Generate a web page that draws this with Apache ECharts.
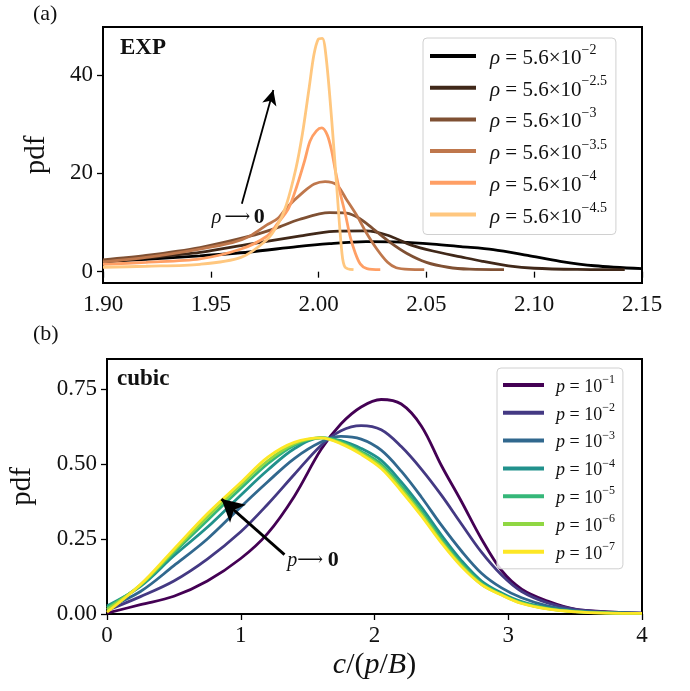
<!DOCTYPE html>
<html>
<head>
<meta charset="utf-8">
<script src="https://cdn.jsdelivr.net/npm/echarts@6.0.0/dist/echarts.min.js"></script>
<style>
  html, body { margin: 0; padding: 0; background: #fff; }
  #pdf_chart { width: 690px; height: 691px; }
</style>
</head>
<body>
<div id="pdf_chart"></div>
<script>
// (a) EXP : [c/(p/B), pdf] per rho
var expRho2  = [[1.90,2.0],[1.92,2.5],[1.945,3.2],[1.968,4.0],[1.99,5.1],[2.005,5.7],[2.022,6.1],[2.038,6.0],[2.053,5.6],[2.066,5.1],[2.081,4.5],[2.097,3.3],[2.112,2.1],[2.128,1.2],[2.15,0.6]];
var expRho25 = [[1.90,2.0],[1.92,2.8],[1.945,3.9],[1.968,5.6],[1.991,7.2],[2.007,8.2],[2.022,8.3],[2.032,7.4],[2.043,5.4],[2.053,4.2],[2.066,3.0],[2.076,2.1],[2.088,1.2],[2.10,0.7],[2.12,0.45],[2.142,0.4]];
var expRho3  = [[1.90,2.4],[1.92,3.3],[1.945,4.9],[1.968,7.2],[1.98,8.8],[1.991,10.6],[2.005,12.0],[2.013,11.9],[2.019,10.8],[2.025,8.8],[2.033,6.0],[2.041,3.7],[2.05,1.9],[2.06,0.9],[2.07,0.5],[2.086,0.4]];
var expRho35 = [[1.90,2.0],[1.92,2.9],[1.945,4.6],[1.96,5.9],[1.968,7.2],[1.976,9.5],[1.981,10.8],[1.9852,13.0],[1.993,16.2],[1.998,17.8],[2.003,18.3],[2.0085,17.6],[2.013,14.6],[2.018,11.2],[2.022,8.0],[2.027,4.6],[2.032,1.9],[2.036,0.8],[2.042,0.45],[2.049,0.4]];
var expRho4  = [[1.90,1.5],[1.92,1.9],[1.945,2.6],[1.964,4.6],[1.976,7.2],[1.981,9.8],[1.986,12.8],[1.99,17.5],[1.9935,22.5],[1.996,26.5],[1.999,28.6],[2.0015,29.2],[2.004,27.8],[2.006,24.7],[2.008,20.0],[2.01,16.0],[2.0125,11.5],[2.0146,7.2],[2.017,3.8],[2.0193,1.6],[2.0224,0.6],[2.0286,0.4]];
var expRho45 = [[1.90,0.9],[1.92,1.1],[1.945,1.5],[1.964,2.9],[1.976,6.5],[1.981,9.5],[1.985,13.5],[1.9895,21.0],[1.9925,28.0],[1.9955,37.0],[1.9978,44.0],[1.9998,47.2],[2.0017,47.4],[2.0035,43.5],[2.0061,30.7],[2.0084,17.3],[2.0108,3.9],[2.0123,0.9],[2.0162,0.4]];
var expNames = ['−2','−2.5','−3','−3.5','−4','−4.5'];
var expColors = ['#000000','#402819','#7f5033','#bf774c','#ff9f65','#ffc77f'];
var expTicksX = [1.90,1.95,2.00,2.05,2.10,2.15];
var expTicksY = [0,20,40];

// (b) cubic : pdf on a shared c/(p/B) grid per p
var cubicX  = [0,0.25,0.5,0.75,1.0,1.2,1.4,1.6,1.75,1.9,2.05,2.2,2.35,2.5,2.65,2.8,2.95,3.1,3.3,3.5,3.75,4.0];
var cubicP1 = [0.003,0.031,0.059,0.110,0.185,0.268,0.392,0.548,0.634,0.690,0.715,0.700,0.627,0.495,0.375,0.250,0.145,0.083,0.042,0.016,0.007,0.003];
var cubicP2 = [0.012,0.058,0.110,0.183,0.274,0.365,0.465,0.562,0.611,0.628,0.614,0.558,0.483,0.396,0.300,0.206,0.130,0.075,0.036,0.015,0.006,0.003];
var cubicP3 = [0.020,0.075,0.161,0.250,0.357,0.440,0.518,0.573,0.592,0.583,0.546,0.476,0.390,0.296,0.210,0.136,0.087,0.054,0.026,0.011,0.005,0.002];
var cubicP4 = [0.027,0.092,0.194,0.289,0.396,0.479,0.551,0.587,0.578,0.552,0.512,0.440,0.356,0.263,0.178,0.110,0.070,0.041,0.020,0.009,0.004,0.002];
var cubicP5 = [0.022,0.095,0.204,0.312,0.418,0.500,0.562,0.588,0.575,0.542,0.500,0.427,0.343,0.250,0.168,0.103,0.066,0.038,0.018,0.008,0.004,0.002];
var cubicP6 = [0.015,0.097,0.210,0.323,0.430,0.510,0.567,0.587,0.570,0.537,0.492,0.418,0.335,0.242,0.162,0.099,0.064,0.036,0.017,0.008,0.003,0.002];
var cubicP7 = [0.006,0.098,0.216,0.334,0.438,0.522,0.572,0.587,0.567,0.532,0.485,0.410,0.327,0.237,0.158,0.098,0.063,0.035,0.016,0.007,0.003,0.002];
var cubicNames = ['−1','−2','−3','−4','−5','−6','−7'];
var cubicColors = ['#440154','#443983','#31688e','#21918c','#35b779','#90d743','#fde725'];
var cubicTicksX = [0,1,2,3,4];
var cubicTicksY = [0,0.25,0.5,0.75];

var FONT = '"Liberation Serif", "DejaVu Serif", serif';

// tick / label style shared by all axes
function axisStyle(ticks, digits) {
    return {
        axisLine: {show: false},
        splitLine: {show: false},
        axisTick: {show: true, customValues: ticks, length: 6, lineStyle: {color: '#000', width: 1.3}},
        axisLabel: {
            customValues: ticks, color: '#111', fontFamily: FONT, fontSize: 23, margin: 10,
            formatter: function (v) { return v.toFixed(digits); }
        }
    };
}

function makeAxis(base, extra) {
    for (var k in extra) base[k] = extra[k];
    return base;
}

var expSeries = [expRho2, expRho25, expRho3, expRho35, expRho4, expRho45];
var cubicSeries = [cubicP1, cubicP2, cubicP3, cubicP4, cubicP5, cubicP6, cubicP7];
var series = [];
var expLegend = [], cubicLegend = [], supMap = {};

for (var i = 0; i < expSeries.length; i++) {
    var nm = 'rho' + expNames[i];
    supMap[nm] = expNames[i];
    expLegend.push(nm);
    series.push({
        name: nm, type: 'line', xAxisIndex: 0, yAxisIndex: 0,
        data: expSeries[i], showSymbol: false, symbol: 'none', smooth: 0.3,
        lineStyle: {color: expColors[i], width: 2.8}, itemStyle: {color: expColors[i]}
    });
}
for (var j = 0; j < cubicSeries.length; j++) {
    var nm2 = 'p' + cubicNames[j];
    supMap[nm2] = cubicNames[j];
    cubicLegend.push(nm2);
    var pts = [];
    for (var n = 0; n < cubicX.length; n++) pts.push([cubicX[n], cubicSeries[j][n]]);
    series.push({
        name: nm2, type: 'line', xAxisIndex: 1, yAxisIndex: 1,
        data: pts, showSymbol: false, symbol: 'none', smooth: 0.35,
        lineStyle: {color: cubicColors[j], width: 2.8}, itemStyle: {color: cubicColors[j]}
    });
}

// annotations: arrows + labels in data coordinates
var topLast = series[expSeries.length - 1];
topLast.markLine = {
    silent: true, animation: false, symbol: ['none', 'arrow'], symbolSize: [11, 15],
    lineStyle: {color: '#000', width: 1.8, type: 'solid'}, label: {show: false},
    data: [[{coord: [1.9644, 13.8]}, {coord: [1.979, 36.9]}]]
};
topLast.markPoint = {
    silent: true, animation: false, symbol: 'circle', symbolSize: 0,
    label: {
        show: true, position: 'inside', formatter: '{i|ρ} {t|⟶} {b|0}',
        rich: {
            i: {fontFamily: FONT, fontStyle: 'italic', fontSize: 20, color: '#111'},
            t: {fontFamily: FONT, fontSize: 18, color: '#111'},
            b: {fontFamily: FONT, fontWeight: 'bold', fontSize: 22, color: '#111'}
        }
    },
    data: [{coord: [1.9627, 11.0]}]
};
var botLast = series[series.length - 1];
botLast.markLine = {
    silent: true, animation: false, symbol: ['none', 'arrow'], symbolSize: [18, 22],
    lineStyle: {color: '#000', width: 2.8, type: 'solid'}, label: {show: false},
    data: [[{coord: [1.327, 0.198]}, {coord: [0.856, 0.383]}]]
};
botLast.markPoint = {
    silent: true, animation: false, symbol: 'circle', symbolSize: 0,
    label: {
        show: true, position: 'inside', formatter: '{i|p}{t|⟶ }{b|0}',
        rich: {
            i: {fontFamily: FONT, fontStyle: 'italic', fontSize: 20, color: '#111'},
            t: {fontFamily: FONT, fontSize: 18, color: '#111'},
            b: {fontFamily: FONT, fontWeight: 'bold', fontSize: 22, color: '#111'}
        }
    },
    data: [{coord: [1.54, 0.178]}]
};

function legendRich(size, supSize, lh, pad) {
    return {
        i: {fontFamily: FONT, fontStyle: 'italic', fontSize: size, lineHeight: lh, verticalAlign: 'bottom', padding: [0, 0, 0, pad], color: '#111'},
        t: {fontFamily: FONT, fontSize: size, lineHeight: lh, verticalAlign: 'bottom', color: '#111'},
        s: {fontFamily: FONT, fontSize: supSize, lineHeight: supSize, verticalAlign: 'top', color: '#111'}
    };
}

var option = {
    animation: false,
    backgroundColor: '#fff',
    grid: [
        {left: 103, right: 48, top: 27, bottom: 408, show: true, borderColor: '#000', borderWidth: 2, backgroundColor: 'transparent'},
        {left: 103, right: 48, top: 359, bottom: 77, show: true, borderColor: '#000', borderWidth: 2, backgroundColor: 'transparent'}
    ],
    xAxis: [
        makeAxis(axisStyle(expTicksX, 2), {type: 'value', gridIndex: 0, min: 1.90, max: 2.15}),
        makeAxis(axisStyle(cubicTicksX, 0), {
            type: 'value', gridIndex: 1, min: 0, max: 4,
            name: '{i|c}{t|/(}{i|p}{t|/}{i|B}{t|)}', nameLocation: 'middle', nameGap: 36,
            nameTextStyle: {
                rich: {
                    i: {fontFamily: FONT, fontStyle: 'italic', fontSize: 30, color: '#111'},
                    t: {fontFamily: FONT, fontSize: 30, color: '#111'}
                }
            }
        })
    ],
    yAxis: [
        makeAxis(axisStyle(expTicksY, 0), {
            type: 'value', gridIndex: 0, min: -2.3, max: 49.7,
            name: 'pdf', nameLocation: 'middle', nameGap: 52,
            nameTextStyle: {fontFamily: FONT, fontSize: 29, color: '#111'}
        }),
        makeAxis(axisStyle(cubicTicksY, 2), {
            type: 'value', gridIndex: 1, min: 0, max: 0.85,
            name: 'pdf', nameLocation: 'middle', nameGap: 70,
            nameTextStyle: {fontFamily: FONT, fontSize: 29, color: '#111'}
        })
    ],
    legend: [
        {
            data: expLegend, orient: 'vertical', left: 423, top: 38, icon: 'rect',
            itemWidth: 46, itemHeight: 4, itemGap: 5.7, padding: [5, 9, 7, 7],
            borderColor: '#d0d0d0', borderWidth: 1, borderRadius: 4, backgroundColor: 'rgba(255,255,255,0.8)',
            selectedMode: false,
            formatter: function (name) { return '{i|ρ}{t| = 5.6×10}{s|' + supMap[name] + '}'; },
            textStyle: {rich: legendRich(21, 14, 26, 9)}
        },
        {
            data: cubicLegend, orient: 'vertical', left: 497, top: 368, icon: 'rect',
            itemWidth: 41, itemHeight: 4, itemGap: 5.8, padding: [6, 8, 6, 6],
            borderColor: '#d0d0d0', borderWidth: 1, borderRadius: 4, backgroundColor: 'rgba(255,255,255,0.8)',
            selectedMode: false,
            formatter: function (name) { return '{i|p}{t| = 10}{s|' + supMap[name] + '}'; },
            textStyle: {rich: legendRich(18, 12, 22, 7)}
        }
    ],
    graphic: [
        {type: 'text', left: 33, top: 3, style: {text: '(a)', fontFamily: FONT, fontSize: 22, fill: '#111'}},
        {type: 'text', left: 33, top: 323, style: {text: '(b)', fontFamily: FONT, fontSize: 22, fill: '#111'}},
        {type: 'text', left: 120, top: 37, style: {text: 'EXP', fontFamily: FONT, fontWeight: 'bold', fontSize: 23, fill: '#111'}},
        {type: 'text', left: 117, top: 368, style: {text: 'cubic', fontFamily: FONT, fontWeight: 'bold', fontSize: 23, fill: '#111'}}
    ],
    series: series
};

echarts.init(document.getElementById('pdf_chart')).setOption(option);
</script>
</body>
</html>
